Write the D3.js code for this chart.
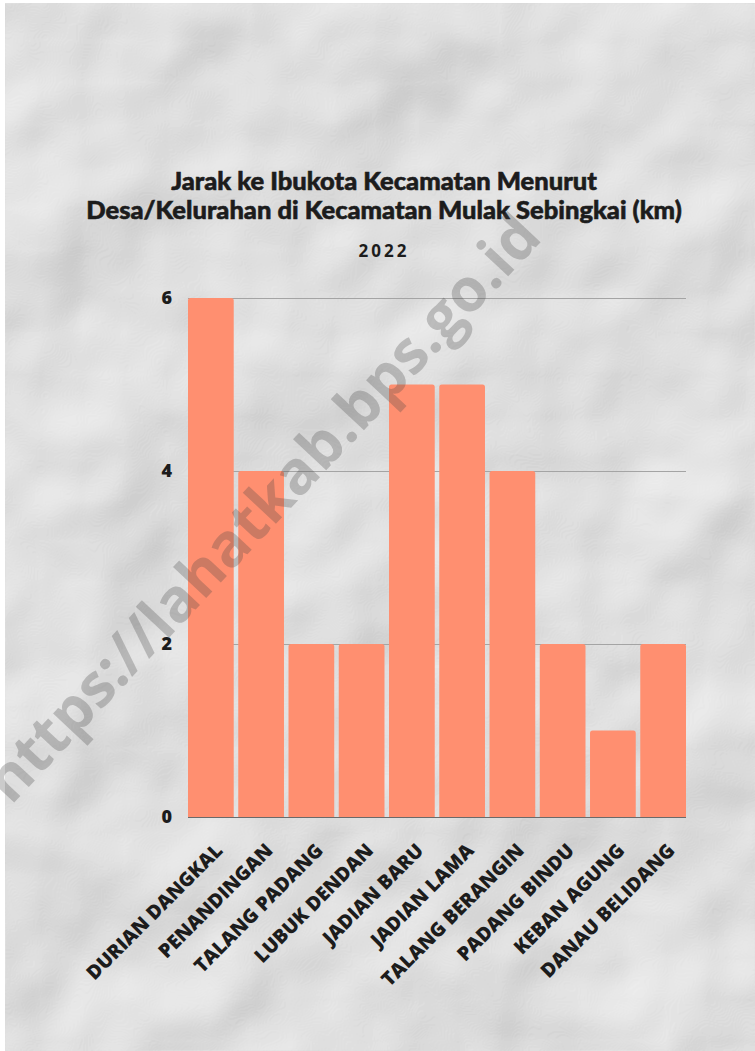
<!DOCTYPE html>
<html>
<head>
<meta charset="utf-8">
<script src="https://cdn.jsdelivr.net/npm/d3@7"></script>
<style>
  body { margin: 0; background: #fff; }
  svg { display: block; }
</style>
</head>
<body>
<div id="chart"></div>
<script>
// data
var desa = ['DURIAN DANGKAL', 'PENANDINGAN', 'TALANG PADANG', 'LUBUK DENDAN', 'JADIAN BARU',
            'JADIAN LAMA', 'TALANG BERANGIN', 'PADANG BINDU', 'KEBAN AGUNG', 'DANAU BELIDANG'];
var jarak = [6, 4, 2, 2, 5, 5, 4, 2, 1, 2];
var yTicks = [0, 2, 4, 6];
var judul = ['Jarak ke Ibukota Kecamatan Menurut', 'Desa/Kelurahan di Kecamatan Mulak Sebingkai (km)'];
var tahun = '2022';
var watermark = 'https://lahatkab.bps.go.id';

var W = 755, H = 1051;
// plot box (not "top": that name is taken by window.top)
var pLeft = 188, pRight = 686, pTop = 298, pBottom = 817;

var svg = d3.select('#chart').append('svg')
  .attr('width', W)
  .attr('height', H);

// crumpled paper look
var defs = svg.append('defs');
var f = defs.append('filter').attr('id', 'paper')
  .attr('color-interpolation-filters', 'sRGB')
  .attr('x', 0).attr('y', 0).attr('width', '100%').attr('height', '100%');
f.append('feTurbulence')
  .attr('type', 'fractalNoise')
  .attr('baseFrequency', '0.006')
  .attr('numOctaves', 3)
  .attr('seed', 3)
  .attr('result', 'noise');
f.append('feDiffuseLighting')
  .attr('in', 'noise')
  .attr('surfaceScale', 16)
  .attr('lighting-color', '#fff')
  .attr('result', 'light')
  .append('feDistantLight')
  .attr('azimuth', 235)
  .attr('elevation', 55);
var ct = f.append('feComponentTransfer').attr('in', 'light');
['feFuncR', 'feFuncG', 'feFuncB'].forEach(function(n) {
  ct.append(n).attr('type', 'linear').attr('slope', 0.36).attr('intercept', 0.58);
});

svg.append('rect')
  .attr('x', 5).attr('y', 3)
  .attr('width', W - 5).attr('height', H - 3)
  .attr('fill', '#ddd')
  .attr('filter', 'url(#paper)');

// title
svg.append('g').selectAll('text')
  .data(judul)
  .join('text')
  .attr('x', 384)
  .attr('y', function(d, i) { return 190 + i * 29; })
  .attr('text-anchor', 'middle')
  .style('font-family', 'Lato')
  .style('font-weight', 900)
  .style('font-size', '25.5px')
  .style('fill', '#1c1c1c')
  .style('stroke', '#1c1c1c')
  .style('stroke-width', 0.6)
  .text(function(d) { return d; });

svg.append('text')
  .attr('x', 384)
  .attr('y', 257)
  .attr('text-anchor', 'middle')
  .style('font-family', 'Open Sans')
  .style('font-weight', 700)
  .style('font-size', '17px')
  .style('letter-spacing', '3px')
  .style('fill', '#1c1c1c')
  .text(tahun);

// scales
var x = d3.scaleBand()
  .domain(desa)
  .range([pLeft, pRight])
  .paddingInner(0.09)
  .paddingOuter(0);

var y = d3.scaleLinear()
  .domain([0, 6])
  .range([pBottom, pTop]);

// grid
var grid = svg.append('g')
  .attr('transform', 'translate(' + pLeft + ',0)')
  .call(d3.axisLeft(y).tickValues(yTicks).tickSize(-(pRight - pLeft)).tickFormat(''));
grid.select('.domain').remove();
grid.selectAll('line')
  .attr('stroke', function(d) { return d === 0 ? '#6a6a6a' : '#a4a4a4'; })
  .attr('stroke-width', 1);

// y labels
var ya = svg.append('g')
  .attr('transform', 'translate(' + pLeft + ',0)')
  .call(d3.axisLeft(y).tickValues(yTicks).tickFormat(d3.format('d')).tickSize(0).tickPadding(16));
ya.select('.domain').remove();
ya.selectAll('text')
  .style('font-family', 'Open Sans')
  .style('font-weight', 800)
  .style('font-size', '18px')
  .style('fill', '#1c1c1c');

// bars, top corners slightly rounded
var r = 2.5;
svg.append('g').selectAll('path')
  .data(jarak)
  .join('path')
  .attr('fill', '#ff8f70')
  .attr('d', function(d, i) {
    var x0 = x(desa[i]), w = x.bandwidth(), y0 = y(d), y1 = y(0);
    return 'M' + x0 + ',' + y1 +
      'V' + (y0 + r) +
      'Q' + x0 + ',' + y0 + ' ' + (x0 + r) + ',' + y0 +
      'H' + (x0 + w - r) +
      'Q' + (x0 + w) + ',' + y0 + ' ' + (x0 + w) + ',' + (y0 + r) +
      'V' + y1 + 'Z';
  });

// x labels
svg.append('g').selectAll('text')
  .data(desa)
  .join('text')
  .attr('text-anchor', 'end')
  .attr('transform', function(d) {
    return 'translate(' + (x(d) + x.bandwidth() / 2 + 8) + ',' + 847 + ') rotate(-45)';
  })
  .attr('dy', '0.35em')
  .style('font-family', 'Open Sans')
  .style('font-weight', 800)
  .style('font-size', '19.5px')
  .style('fill', '#1c1c1c')
  .text(function(d) { return d; });

// watermark
svg.append('text')
  .attr('transform', 'translate(262,508) rotate(-46.8)')
  .attr('text-anchor', 'middle')
  .attr('dy', '0.35em')
  .style('font-family', 'Open Sans')
  .style('font-weight', 700)
  .style('font-size', '60px')
  .style('fill', 'rgba(70,70,70,0.28)')
  .text(watermark);
</script>
</body>
</html>
